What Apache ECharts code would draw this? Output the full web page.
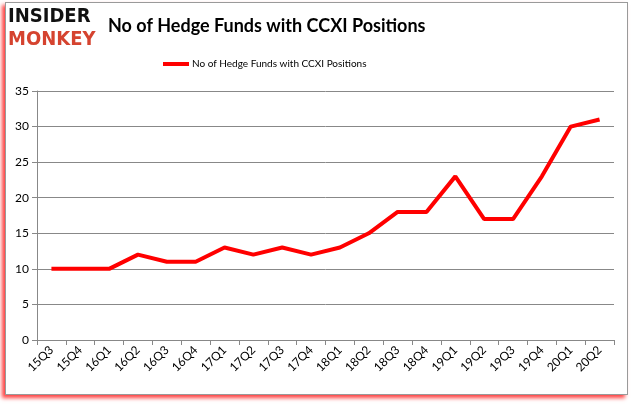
<!DOCTYPE html>
<html><head><meta charset="utf-8">
<script src="https://cdn.jsdelivr.net/npm/echarts@6/dist/echarts.min.js"></script>
<style>
html,body{margin:0;padding:0;background:#fff;}
#frame{position:absolute;left:5px;top:2px;width:621px;height:391px;border:1px solid #9a9a9a;background:#fff;box-shadow:-3px 3px 4px rgba(255,0,0,0.75);}
#c{position:absolute;left:0;top:0;width:634px;height:404px;}
</style></head>
<body>
<div id="frame"></div>
<div id="c"></div>
<script>
const categories = ["15Q3","15Q4","16Q1","16Q2","16Q3","16Q4","17Q1","17Q2","17Q3","17Q4","18Q1","18Q2","18Q3","18Q4","19Q1","19Q2","19Q3","19Q4","20Q1","20Q2"];
const hedgeFunds = [10,10,10,12,11,11,13,12,13,12,13,15,18,18,23,17,17,23,30,31];
const seriesName = "No of Hedge Funds with CCXI Positions";
const titleText = "No of Hedge Funds with CCXI Positions";

const chart = echarts.init(document.getElementById('c'), null, {renderer:'canvas'});
chart.setOption({
  backgroundColor: 'transparent',
  animation: false,
  title: {
    text: titleText, left: 103, top: 12,
    textStyle: {fontFamily: 'Lato', fontWeight: 'bold', fontSize: 18, color: '#000'}
  },
  graphic: [
    {type:'text', left: 8, top: 7, style:{text:'INSIDER', font:'900 20px "DejaVu Sans Condensed", "DejaVu Sans"', fill:'#111'}},
    {type:'text', left: 8, top: 30, style:{text:'MONKEY', font:'900 20px "DejaVu Sans Condensed", "DejaVu Sans"', fill:'#d5432f'}}
  ],
  legend: {
    data: [seriesName], top: 54, left: 158,
    itemWidth: 26, itemHeight: 4, itemGap: 4,
    icon: 'rect',
    textStyle: {fontFamily: 'Lato', fontSize: 10, color: '#000', padding:[0,0,0,-2]}
  },
  grid: {left: 37, right: 20, top: 91, bottom: 64, containLabel: false},
  xAxis: {
    type: 'category', data: categories, boundaryGap: true,
    axisLine: {lineStyle: {color: '#888', width: 1}},
    axisTick: {show: true, alignWithLabel: false, length: 5, lineStyle: {color: '#888'}},
    axisLabel: {rotate: 45, fontFamily: 'Lato', fontSize: 12, color: '#000', margin: 8, interval: 0}
  },
  yAxis: {
    type: 'value', min: 0, max: 35, interval: 5,
    axisLine: {show: true, lineStyle: {color: '#888'}},
    axisTick: {show: true, length: 5, lineStyle: {color: '#888'}},
    splitLine: {lineStyle: {color: '#888', width: 1}},
    axisLabel: {fontFamily: 'Lato', fontSize: 12, color: '#000', margin: 8}
  },
  series: [{
    name: seriesName, type: 'line', data: hedgeFunds,
    symbol: 'none', lineStyle: {color: '#ff0000', width: 4}, itemStyle: {color: '#ff0000'}
  }]
});
</script>
</body></html>
